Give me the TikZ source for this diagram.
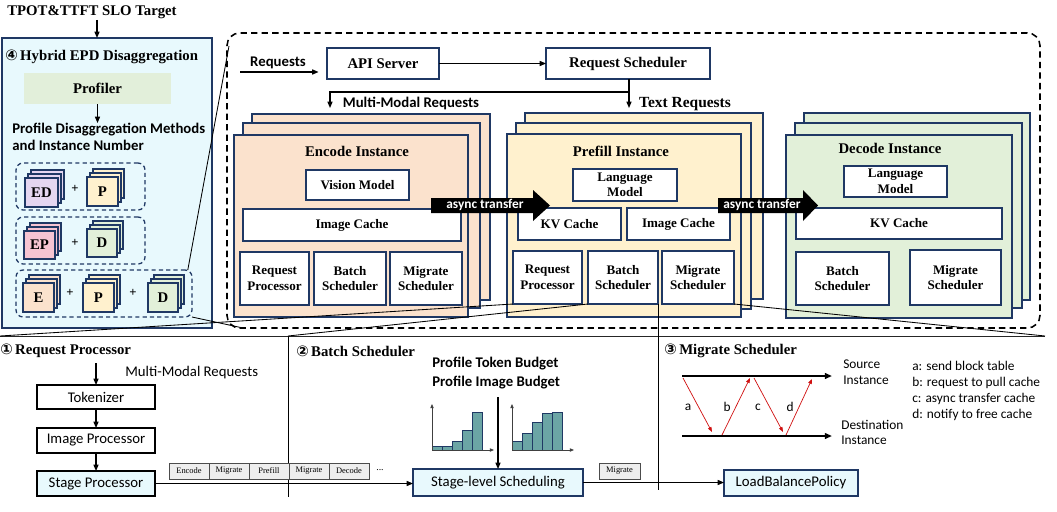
\documentclass[tikz,border=0pt]{standalone}
\usepackage{fontspec}
\setmainfont{Liberation Serif}
\setsansfont{Carlito}
\newfontfamily\djv{DejaVu Sans}
\usetikzlibrary{arrows.meta}
\definecolor{navy}{HTML}{1F3864}
\definecolor{cyanbg}{HTML}{E8F9FD}
\definecolor{peach}{HTML}{FBE2CD}
\definecolor{cream}{HTML}{FFF1CE}
\definecolor{mint}{HTML}{E2F0D9}
\definecolor{lav}{HTML}{E5D6F0}
\definecolor{pinkf}{HTML}{F6C4D2}
\definecolor{profg}{HTML}{E2EFDA}
\definecolor{tealb}{HTML}{6BA5A5}
\definecolor{chipgray}{HTML}{EEEEEE}
\definecolor{redarr}{HTML}{D01010}
\newcommand\bx[7]{\node[#6, anchor=north west, minimum width={((#4)-(#2))*0.025cm}, minimum height={((#5)-(#3))*0.025cm}] (#1) at ({#2},{#3}) {#7};}
\newcommand\stk[7]{%
 \bx{#1c}{(#2)+6}{(#3)-8}{(#4)+6}{(#5)-8}{lay=#6}{}
 \bx{#1b}{(#2)+3}{(#3)-4}{(#4)+3}{(#5)-4}{lay=#6}{}
 \bx{#1}{#2}{#3}{#4}{#5}{lay=#6, font=\bfseries\fontsize{10.5}{12}\selectfont}{#7}}
\tikzset{
 nb/.style={draw=navy, line width=0.9pt, fill=white, inner sep=0pt, outer sep=0pt, align=center, font=\bfseries\fontsize{9.3}{11}\selectfont},
 lay/.style={draw=navy, line width=0.9pt, fill=#1, inner sep=0pt, outer sep=0pt},
 hdr/.style={font=\bfseries\fontsize{10.5}{12}\selectfont, inner sep=0pt},
 sb/.style={draw=black, line width=1pt, fill=white, inner sep=0pt, outer sep=0pt, font=\sffamily\fontsize{10.5}{12}\selectfont},
 chip/.style={draw=black!70, line width=0.5pt, fill=chipgray, inner sep=0pt, outer sep=0pt, font=\fontsize{6}{7}\selectfont},
 arr/.style={-{Triangle[length=4.5pt,width=3.6pt]}, line width=0.8pt},
 thickarr/.style={-{Triangle[length=5pt,width=4pt]}, line width=1.3pt},
 redarrow/.style={-{Triangle[length=3.5pt,width=2.6pt]}, line width=0.5pt, draw=redarr},
 axisarr/.style={-{Triangle[length=3pt,width=2.4pt]}, line width=0.6pt, draw=black!75},
 bar/.style={draw=navy, line width=0.6pt, fill=tealb},
 zl/.style={line width=0.6pt},
 grp/.style={draw=navy, dash pattern=on 3pt off 2.2pt, rounded corners=5pt, line width=0.9pt, inner sep=0pt, outer sep=0pt},
 stxt/.style={font=\sffamily\fontsize{10.5}{12}\selectfont, inner sep=0pt},
 sbtxt/.style={font=\sffamily\bfseries\fontsize{10.5}{12}\selectfont, inner sep=0pt},
 ltxt/.style={font=\sffamily\fontsize{9.5}{11.3}\selectfont, inner sep=0pt, align=left},
 asy/.style={font=\sffamily\bfseries\fontsize{9.5}{11}\selectfont, text=white, inner sep=0pt},
}
\begin{document}
\begin{tikzpicture}[x=0.025cm,y=-0.025cm]
\useasboundingbox[fill=white] (0,0) rectangle (1057,512);

% ---------- left panel ----------
\node[hdr] (slo) at (92,12) {TPOT\&TTFT SLO Target};
\bx{lp}{2}{38}{212}{328}{draw=navy, fill=cyanbg, line width=1pt, inner sep=0pt, outer sep=0pt}{}
\coordinate (sloarr) at (97,20);
\draw[arr] (sloarr) -- (sloarr |- lp.north);
\node[hdr, anchor=west] (lpt) at (5,57) {{\djv ④}\,Hybrid EPD Disaggregation};
\bx{prof}{24}{73}{171}{104}{fill=profg, inner sep=0pt, outer sep=0pt, font=\bfseries\fontsize{10.5}{12}\selectfont}{Profiler}
\node[sbtxt, anchor=north west, align=left, font=\sffamily\bfseries\fontsize{10.5}{12.2}\selectfont] (pdm) at (12,123) {Profile Disaggregation Methods\\and Instance Number};
\draw[arr] (prof.south) -- (prof.south |- pdm.north);
\bx{g1}{16}{163}{145}{210}{grp}{}
\bx{g2}{16}{217}{145}{264}{grp}{}
\bx{g3}{16}{270}{192}{317}{grp}{}
\stk{ed}{25}{178}{58}{207}{lav}{ED}
\stk{pa}{87}{177}{118}{206}{cream}{P}
\node[hdr, font=\bfseries\fontsize{9}{10}\selectfont] (pl1) at (75,189) {+};
\stk{ep}{24}{231}{55}{259}{pinkf}{EP}
\stk{da}{87}{229}{117}{257}{mint}{D}
\node[hdr, font=\bfseries\fontsize{9}{10}\selectfont] (pl2) at (75,243) {+};
\stk{ea}{23}{283}{54}{312}{peach}{E}
\stk{pb}{83}{283}{114}{312}{cream}{P}
\stk{db}{148}{283}{178}{312}{mint}{D}
\node[hdr, font=\bfseries\fontsize{9}{10}\selectfont] (pl3) at (70,293) {+};
\node[hdr, font=\bfseries\fontsize{9}{10}\selectfont] (pl4) at (133,293) {+};

% ---------- main dashed system ----------
\bx{mdb}{227}{33}{1040}{328}{draw=black, line width=1.1pt, dash pattern=on 4.5pt off 3pt, rounded corners=9pt, inner sep=0pt, outer sep=0pt}{}
\node[sbtxt] (reqlbl) at (278,63) {Requests};
\coordinate (reqin) at (240,72);
\bx{api}{327}{48}{439}{79}{nb, font=\bfseries\fontsize{10.5}{12}\selectfont}{API Server}
\bx{rs}{546}{48}{710}{79}{nb, font=\bfseries\fontsize{10.5}{12}\selectfont}{Request Scheduler}
\draw[arr, shorten >=6pt] (reqin) -- (reqin -| api.west);
\draw[arr] (api.east) -- (rs.west);
\coordinate (split) at (629,92);
\coordinate (mmin) at (330,108);
\coordinate (txin) at (629,108);
\draw[line width=0.8pt] (rs.south -| split) -- (split);
\draw[arr] (split) -| (mmin);
\draw[arr] (split) -- (txin);
\node[sbtxt] (mmlbl) at (411,103) {Multi-Modal Requests};
\node[hdr, font=\bfseries\fontsize{11}{12}\selectfont] (txlbl) at (685,104) {Text Requests};

% Encode instance
\bx{encc}{252}{114}{490}{300}{lay=peach}{}
\bx{encb}{243}{123}{480}{308}{lay=peach}{}
\bx{enc}{234}{135}{468}{317}{lay=peach}{}
\node[hdr] (enct) at (357,151) {Encode Instance};
\bx{eVM}{306}{170}{409}{200}{nb}{Vision Model}
\bx{eIC}{243}{209}{461}{241}{nb}{Image Cache}
\bx{eRP}{240}{252}{309}{305}{nb}{Request\\Processor}
\bx{eBS}{314}{252}{386}{305}{nb}{Batch\\Scheduler}
\bx{eMS}{390}{252}{462}{305}{nb}{Migrate\\Scheduler}

% Prefill instance
\bx{prec}{525}{113}{763}{299}{lay=cream}{}
\bx{preb}{516}{123}{751}{309}{lay=cream}{}
\bx{pre}{507}{134}{741}{317}{lay=cream}{}
\node[hdr] (pret) at (621,151) {Prefill Instance};
\bx{pLM}{573}{169}{677}{201}{nb}{Language\\Model}
\bx{pKV}{518}{208}{621}{240}{nb}{KV Cache}
\bx{pIC}{627}{208}{730}{240}{nb}{Image Cache}
\bx{pRP}{513}{251}{582}{304}{nb}{Request\\Processor}
\bx{pBS}{588}{251}{658}{304}{nb}{Batch\\Scheduler}
\bx{pMS}{662}{251}{734}{304}{nb}{Migrate\\Scheduler}

% Decode instance
\bx{decc}{804}{113}{1030}{300}{lay=mint}{}
\bx{decb}{795}{123}{1022}{308}{lay=mint}{}
\bx{dec}{786}{135}{1012}{318}{lay=mint}{}
\node[hdr] (dect) at (890,148) {Decode Instance};
\bx{dLM}{844}{166}{947}{197}{nb}{Language\\Model}
\bx{dKV}{796}{208}{1002}{239}{nb}{KV Cache}
\bx{dBS}{796}{252}{889}{305}{nb}{Batch\\Scheduler}
\bx{dMS}{910}{250}{1001}{305}{nb}{Migrate\\Scheduler}

% async transfer arrows
\fill (431,198) -- (533,198) -- (533,190) -- (550,205.5) -- (533,221) -- (533,213) -- (431,213) -- cycle;
\node[asy] (at1) at (485,205) {async transfer};
\fill (718,198) -- (803,198) -- (803,190) -- (818,205.5) -- (803,221) -- (803,213) -- (718,213) -- cycle;
\node[asy] (at2) at (762,205) {async transfer};

% ---------- bottom ----------
\coordinate (bl) at (0,336);
\coordinate (bm1) at (288,336);
\coordinate (bm1b) at (288,497);
\coordinate (v2) at (658,490);
\coordinate (br) at (1045,336);
\draw[line width=0.7pt, draw=black!85] (bl) -- (br);
\draw[zl] (bm1) -- (bm1b);
\draw[zl] (pBS.south east) -- (pBS.south east |- v2);

% panel 1
\node[hdr, anchor=west] (t1) at (0,351) {{\djv ①}\,Request Processor};
\coordinate (tokin) at (96,363);
\node[stxt, anchor=west] (mmr) at (125,373) {Multi-Modal Requests};
\bx{tok}{37}{385}{155}{409}{sb}{Tokenizer}
\bx{imp}{37}{428}{155}{453}{sb}{Image Processor}
\bx{stp}{37}{471}{155}{496}{sb, fill=cyanbg}{Stage Processor}
\draw[arr] (tokin) -- (tokin |- tok.north);
\draw[arr] (tok.south) -- (imp.north);
\draw[arr] (imp.south) -- (stp.north);
\bx{c1}{169}{463}{209}{479}{chip}{Encode}
\bx{c2}{209}{463}{249}{479}{chip}{Migrate}
\bx{c3}{249}{463}{289}{479}{chip}{Prefill}
\bx{c4}{289}{463}{329}{479}{chip}{Migrate}
\bx{c5}{329}{463}{369}{479}{chip}{Decode}
\node[font=\fontsize{7}{8}\selectfont, inner sep=0pt] (dots) at (380,470) {...};

% panel 2
\node[hdr, anchor=west] (t2) at (296,351) {{\djv ②}\,Batch Scheduler};
\node[anchor=north west, align=left, inner sep=0pt, font=\sffamily\bfseries\fontsize{10.5}{13.5}\selectfont] (bud) at (432,357) {Profile Token Budget\\Profile Image Budget};
\bx{sls}{413}{469}{583}{496}{sb, fill=cyanbg, draw=navy}{Stage-level Scheduling}
\coordinate (budarr) at (498,397);
\draw[arr] (budarr) -- (budarr |- sls.north);
\draw[arr] (stp.east) -- (stp.east -| sls.west);
% histograms
\draw[bar] (432,450) rectangle (442,446);
\draw[bar] (442,450) rectangle (452,446);
\draw[bar] (452,450) rectangle (462,441);
\draw[bar] (462,450) rectangle (472,430);
\draw[bar] (472,450) rectangle (482,412);
\draw[axisarr] (432,450) -- (432,404);
\draw[axisarr] (432,450) -- (494,450);
\draw[bar] (512,450) rectangle (522,441);
\draw[bar] (522,450) rectangle (532,433);
\draw[bar] (532,450) rectangle (542,422);
\draw[bar] (542,450) rectangle (552,413);
\draw[bar] (552,450) rectangle (562,412);
\draw[axisarr] (512,450) -- (512,404);
\draw[axisarr] (512,450) -- (574,450);
\bx{c6}{599}{463}{640}{479}{chip}{Migrate}
\bx{lbp}{724}{470}{858}{496}{sb, fill=cyanbg, draw=navy}{LoadBalancePolicy}
\draw[arr] (sls.east) -- (sls.east -| lbp.west);

% panel 3
\node[hdr, anchor=west] (t3) at (664,351) {{\djv ③}\,Migrate Scheduler};
\coordinate (s0) at (682,376);
\coordinate (s1) at (832,376);
\coordinate (d0) at (682,436);
\coordinate (d1) at (832,436);
\draw[thickarr] (s0) -- (s1);
\draw[thickarr] (d0) -- (d1);
\node[ltxt, anchor=north west] (srcl) at (843,360) {Source\\Instance};
\node[ltxt, anchor=north west, font=\sffamily\fontsize{9.5}{10.8}\selectfont] (dstl) at (841,420) {Destination\\Instance};
\node[ltxt, anchor=north west] (leg) at (912,361) {a: send block table\\b: request to pull cache\\c: async transfer cache\\d: notify to free cache};
\coordinate (ra0) at (683,378); \coordinate (ra1) at (712,432);
\coordinate (rb0) at (722,435); \coordinate (rb1) at (750,378);
\coordinate (rc0) at (754,378); \coordinate (rc1) at (783,432);
\coordinate (rd0) at (786,435); \coordinate (rd1) at (812,379);
\draw[redarrow] (ra0) -- (ra1);
\draw[redarrow] (rb0) -- (rb1);
\draw[redarrow] (rc0) -- (rc1);
\draw[redarrow] (rd0) -- (rd1);
\node[ltxt] (la) at (688,407) {a};
\node[ltxt] (lb) at (727,407) {b};
\node[ltxt] (lc) at (758,407) {c};
\node[ltxt] (ld) at (790,407) {d};

% zoom lines
\coordinate (mdtl) at (229,46);
\coordinate (mdbl) at (243,328);
\draw[zl] ([xshift=-3pt]g3.north east) -- (mdtl);
\draw[zl] (g3.south east) -- (mdbl);
\draw[zl] (pRP.south west) -- (bl);
\draw[zl] (pBS.south west) -- (bm1);
\draw[zl] (pMS.south east) -- (br);
\end{tikzpicture}
\end{document}
